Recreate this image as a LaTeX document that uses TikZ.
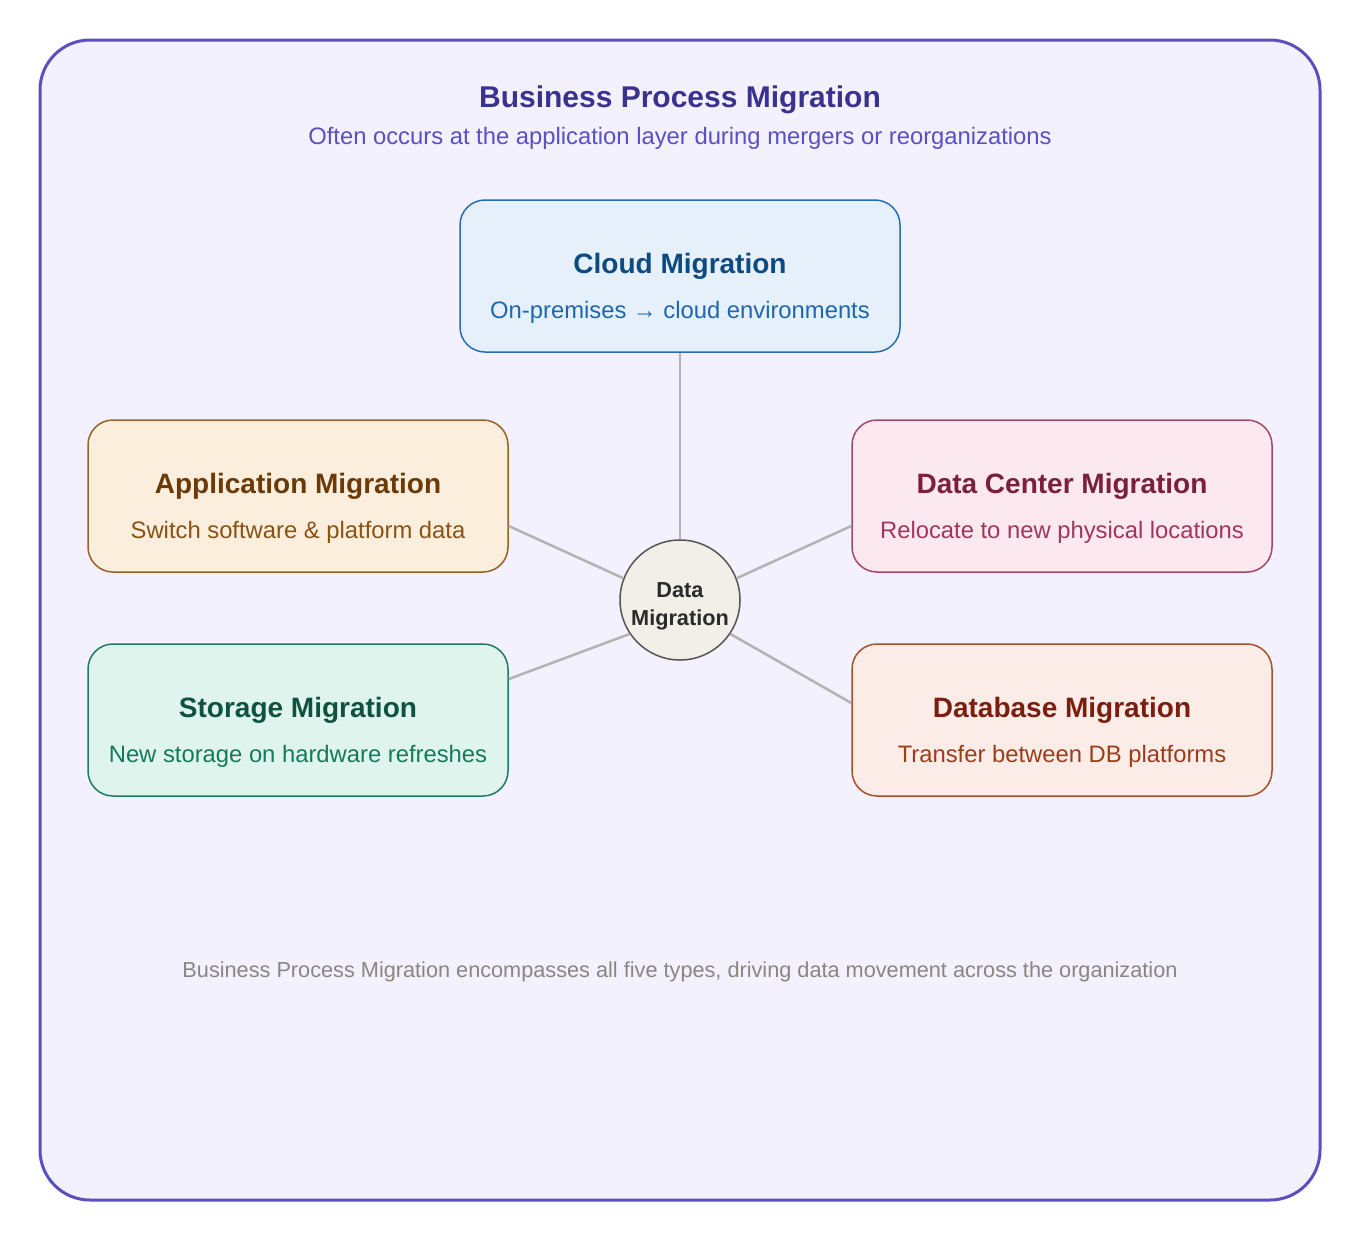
\documentclass[tikz,border=0pt]{standalone}
\usepackage{fontspec}
\setmainfont{Liberation Sans}
\usetikzlibrary{positioning}
\definecolor{frameline}{HTML}{5A4FBE}
\definecolor{framefill}{HTML}{F3F1FE}
\definecolor{headtext}{HTML}{3B3290}
\definecolor{subtext}{HTML}{5A4FC4}
\definecolor{notetext}{HTML}{8A8580}
\definecolor{linkgray}{HTML}{B3B3B3}
\definecolor{cloudfill}{HTML}{E6F0FB}
\definecolor{cloudline}{HTML}{2A6CB0}
\definecolor{cloudhead}{HTML}{0D4A80}
\definecolor{cloudsub}{HTML}{1E66B0}
\definecolor{appfill}{HTML}{FBEEDC}
\definecolor{appline}{HTML}{9A6025}
\definecolor{apphead}{HTML}{6B3A08}
\definecolor{appsub}{HTML}{8A5215}
\definecolor{storefill}{HTML}{E0F4EE}
\definecolor{storeline}{HTML}{1F7A62}
\definecolor{storehead}{HTML}{0F5240}
\definecolor{storesub}{HTML}{157A5A}
\definecolor{dcfill}{HTML}{FBE9EF}
\definecolor{dcline}{HTML}{A8456C}
\definecolor{dchead}{HTML}{7A1F3D}
\definecolor{dcsub}{HTML}{A0365D}
\definecolor{dbfill}{HTML}{FBECE7}
\definecolor{dbline}{HTML}{A8502C}
\definecolor{dbhead}{HTML}{7A1E10}
\definecolor{dbsub}{HTML}{9A3D1A}
\definecolor{hubfill}{HTML}{F2EFE8}
\definecolor{hubline}{HTML}{555555}
\definecolor{hubtext}{HTML}{2A2A2A}
\tikzset{
  mgbox/.style={rectangle, rounded corners=25pt, draw, line width=1.5pt,
                minimum width=420pt, minimum height=152pt, inner sep=0pt},
  mgtitle/.style={anchor=base, inner sep=0pt,
                  font=\fontsize{28}{32}\selectfont\bfseries},
  mgsub/.style={anchor=base, inner sep=0pt,
                font=\fontsize{23.8}{28}\selectfont},
  mghub/.style={circle, draw=hubline, fill=hubfill, line width=1.5pt,
                minimum size=120pt, inner sep=0pt},
  mglink/.style={draw=linkgray, line width=2.5pt},
  mgnote/.style={anchor=base, inner sep=0pt}
}

\begin{document}
\begin{tikzpicture}[
    x=1pt, y=-1pt
]
  \useasboundingbox (0,0) rectangle (1360,1240);
  \fill[white] (0,0) rectangle (1360,1240);
  \draw[frameline, fill=framefill, line width=3pt, rounded corners=50pt]
    (40,40) rectangle (1320,1200);
  \node[mgnote, text=headtext, font=\fontsize{30}{34}\selectfont\bfseries]
    (head) at (680,107) {Business Process Migration};
  \node[mgnote, text=subtext, font=\fontsize{23.8}{28}\selectfont]
    (headsub) at (680,144)
    {Often occurs at the application layer during mergers or reorganizations};

  % the five migration types
  \node[mgbox, draw=cloudline, fill=cloudfill, minimum width=440pt]
    (cloud) at (680,276) {};
  \node[mgbox, draw=appline, fill=appfill] (app) at (298,496) {};
  \node[mgbox, draw=storeline, fill=storefill] (store) at (298,720) {};
  \node[mgbox, draw=dcline, fill=dcfill] (dc) at (1062,496) {};
  \node[mgbox, draw=dbline, fill=dbfill] (db) at (1062,720) {};
  \foreach \b/\t/\s in {
      cloud/Cloud Migration/On-premises → cloud environments,
      app/Application Migration/Switch software \& platform data,
      store/Storage Migration/New storage on hardware refreshes,
      dc/Data Center Migration/Relocate to new physical locations,
      db/Database Migration/Transfer between DB platforms} {
    \node[mgtitle, text=\b head] at ([yshift=3pt]\b.center) {\t};
    \node[mgsub, text=\b sub] at ([yshift=-42pt]\b.center) {\s};
  }

  % hub and spokes
  \node[mghub] (hub) at (680,600) {};
  \node[align=center, inner sep=0pt, text=hubtext,
        font=\fontsize{21.7}{28}\selectfont\bfseries]
    at ([yshift=-6pt]hub.center) {Data\\Migration};
  \draw[mglink] (hub.north) -- (cloud.south);
  \draw[mglink] (hub.159) -- ([yshift=-30pt]app.east);
  \draw[mglink] (hub.214) -- ([yshift=41pt]store.east);
  \draw[mglink] (hub.21) -- ([yshift=-30pt]dc.west);
  \draw[mglink] (hub.326) -- ([yshift=17pt]db.west);

  \node[mgnote, text=notetext, font=\fontsize{21.7}{26}\selectfont]
    (foot) at (680,977)
    {Business Process Migration encompasses all five types, driving data movement across the organization};
\end{tikzpicture}
\end{document}
